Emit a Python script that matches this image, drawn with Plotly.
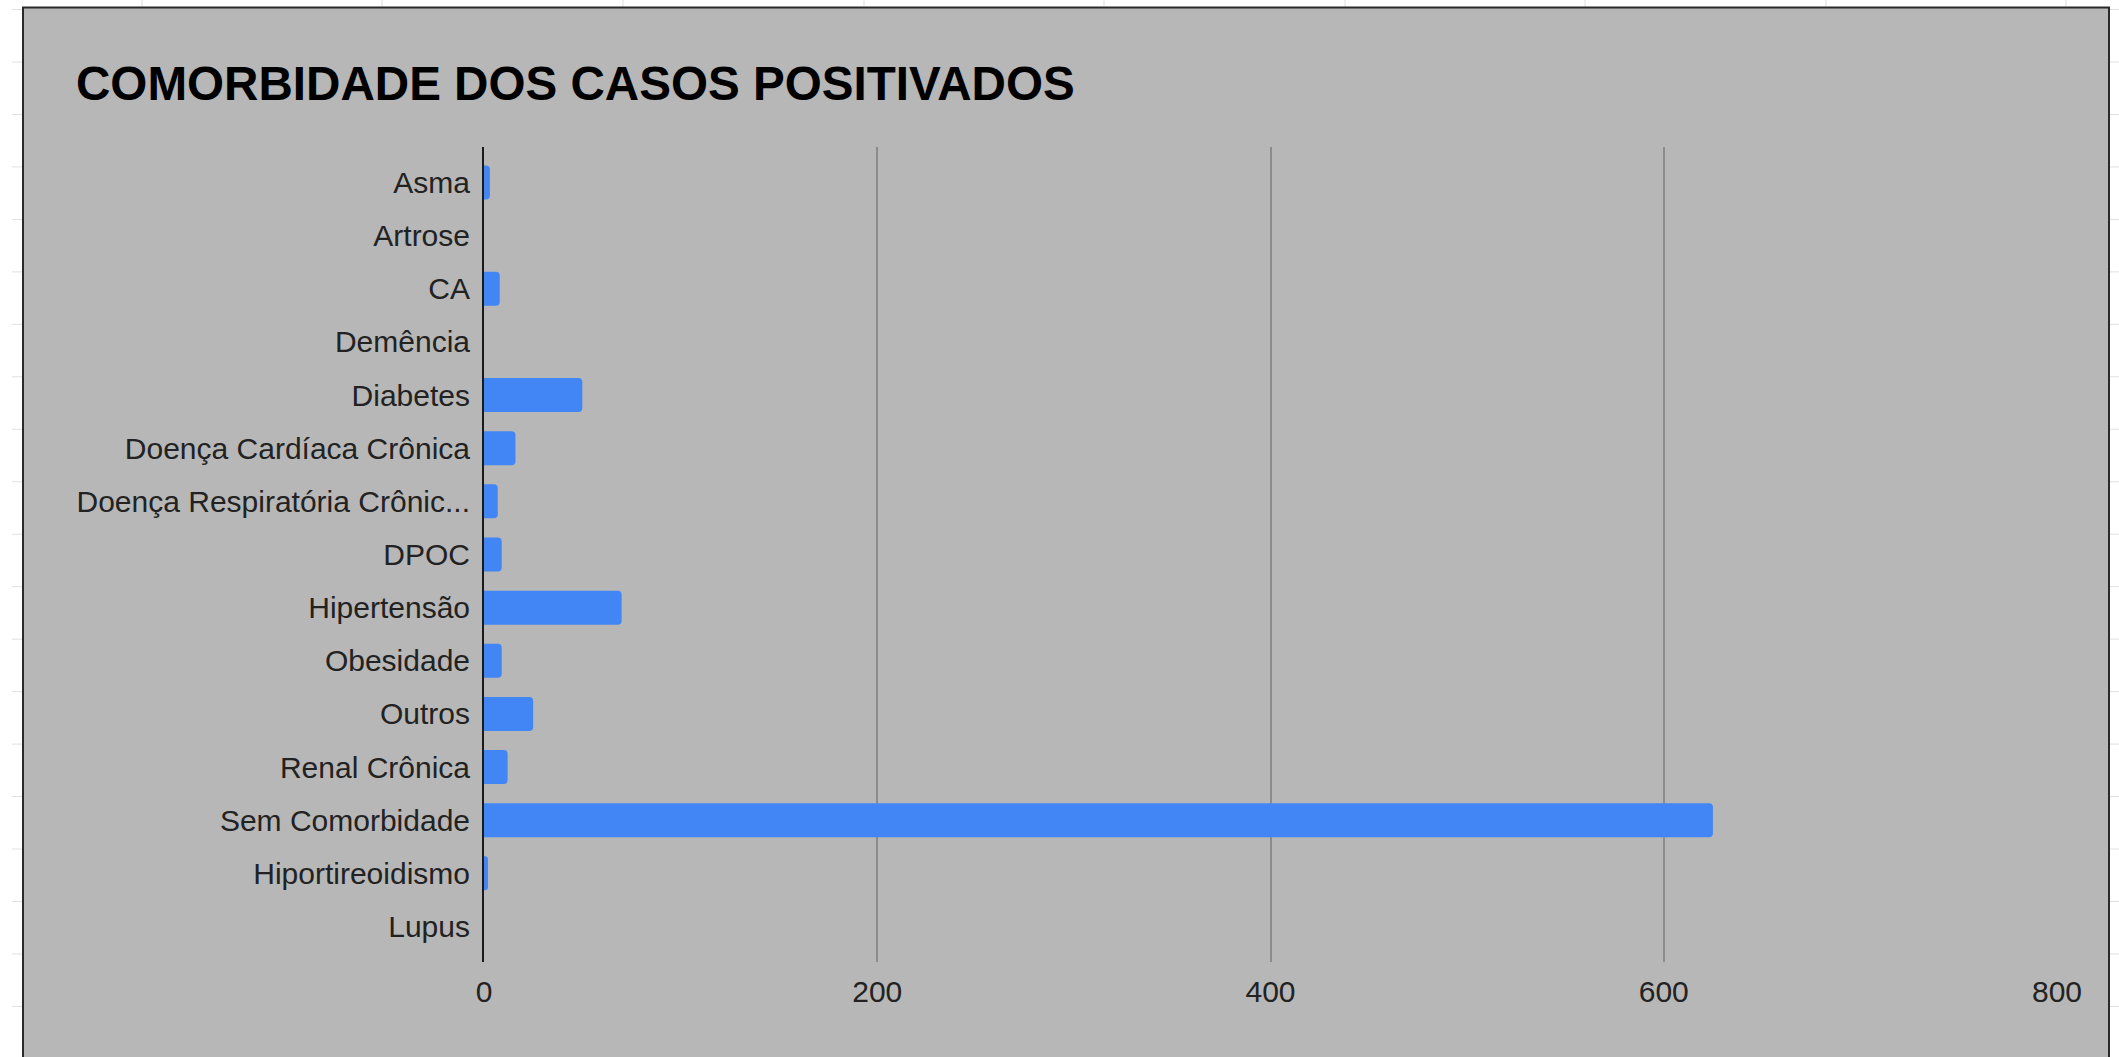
import plotly.graph_objects as go

categories = ["Asma", "Artrose", "CA", "Demência", "Diabetes", "Doença Cardíaca Crônica",
              "Doença Respiratória Crônic...", "DPOC", "Hipertensão", "Obesidade", "Outros",
              "Renal Crônica", "Sem Comorbidade", "Hiportireoidismo", "Lupus"]
values = [3, 0, 8, 0, 50, 16, 7, 9, 70, 9, 25, 12, 625, 2, 0]
x_ticks = [0, 200, 400, 600, 800]
title_text = "COMORBIDADE DOS CASOS POSITIVADOS"

W, H = 2119, 1057
L, R, T, B = 484, 2057, 147, 962  # plot area in pixels


def px(xp):
    return (xp - L) / (R - L)


def py(yp):
    return (B - yp) / (B - T)


FONT = "Liberation Sans, Arial, sans-serif"

fig = go.Figure(go.Bar(
    x=values, y=categories, orientation="h",
    marker=dict(color="#4285f4", cornerradius=4, line=dict(width=0)),
    hoverinfo="x+y",
))

shapes = []
# spreadsheet cell borders visible outside the chart
for xv in [142, 382, 623, 864, 1104, 1345, 1585, 1826, 2066]:
    shapes.append(dict(type="line", xref="paper", yref="paper", x0=px(xv), x1=px(xv),
                       y0=py(0), y1=py(7), line=dict(color="#e0e0e0", width=1), layer="below"))
for k in range(21):
    yv = 9.5 + 52.47 * k
    shapes.append(dict(type="line", xref="paper", yref="paper", x0=px(12), x1=px(22),
                       y0=py(yv), y1=py(yv), line=dict(color="#e0e0e0", width=1), layer="below"))
    shapes.append(dict(type="line", xref="paper", yref="paper", x0=px(2110), x1=px(2119),
                       y0=py(yv), y1=py(yv), line=dict(color="#e0e0e0", width=1), layer="below"))
# chart box
shapes.append(dict(type="rect", xref="paper", yref="paper", x0=px(23), x1=px(2109),
                   y0=py(1070), y1=py(7.5), fillcolor="#b7b7b7",
                   line=dict(color="#2a2a2a", width=2), layer="below"))

fig.update_layout(
    width=W, height=H,
    margin=dict(l=L, r=W - R, t=T, b=H - B, pad=0),
    paper_bgcolor="white",
    plot_bgcolor="rgba(0,0,0,0)",
    bargap=0.36,
    showlegend=False,
    font=dict(family=FONT, size=30, color="#222222"),
    shapes=shapes,
    annotations=[dict(text="<b>" + title_text + "</b>", xref="paper", yref="paper",
                      x=px(74), y=py(83), xanchor="left", yanchor="middle", showarrow=False,
                      font=dict(family=FONT, size=47.6, color="#000000"))],
    xaxis=dict(range=[0, 800], tickvals=x_ticks, ticktext=[str(v) for v in x_ticks],
               showgrid=True, gridcolor="#8c8c8c", gridwidth=1.5, zeroline=False,
               showline=False, ticks="", ticklabelstandoff=9,
               tickfont=dict(family=FONT, size=30, color="#222222")),
    yaxis=dict(categoryorder="array", categoryarray=categories, type="category",
               range=[14.67, -0.67], showgrid=False, zeroline=False,
               showline=True, linecolor="#1a1a1a", linewidth=2, ticks="",
               ticklabelstandoff=6,
               tickfont=dict(family=FONT, size=30, color="#222222")),
)

fig.write_html("out.html", config={"displayModeBar": False},
               post_script="document.body.style.margin='0';document.body.style.overflow='hidden';")
